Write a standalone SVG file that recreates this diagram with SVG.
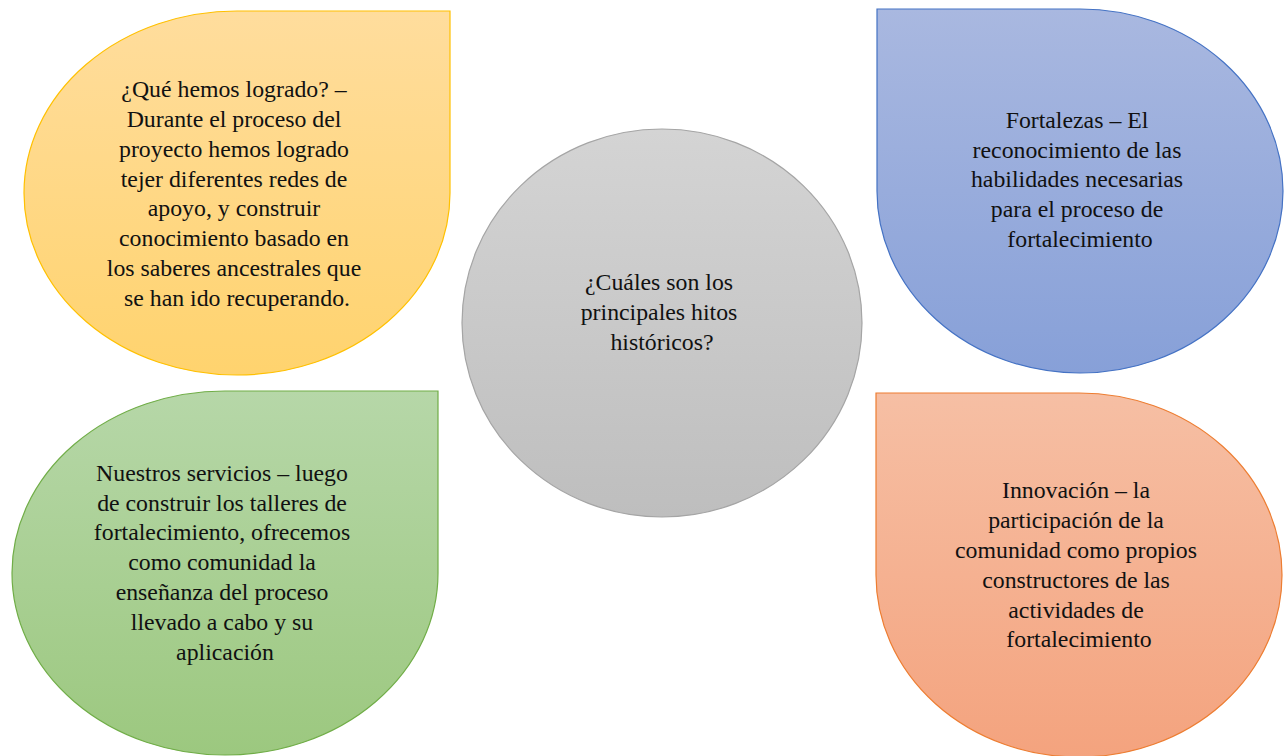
<svg xmlns="http://www.w3.org/2000/svg" width="1284" height="756" viewBox="0 0 1284 756">
  <defs>
    <linearGradient id="gY" x1="0" y1="0" x2="0" y2="1">
      <stop offset="0" stop-color="#FFDD9D"/>
      <stop offset="1" stop-color="#FFD36E"/>
    </linearGradient>
    <linearGradient id="gB" x1="0" y1="0" x2="0" y2="1">
      <stop offset="0" stop-color="#A9B8E0"/>
      <stop offset="1" stop-color="#87A0D8"/>
    </linearGradient>
    <linearGradient id="gG" x1="0" y1="0" x2="0" y2="1">
      <stop offset="0" stop-color="#B6D7A8"/>
      <stop offset="1" stop-color="#9CC87F"/>
    </linearGradient>
    <linearGradient id="gO" x1="0" y1="0" x2="0" y2="1">
      <stop offset="0" stop-color="#F6BFA4"/>
      <stop offset="1" stop-color="#F4A37E"/>
    </linearGradient>
    <linearGradient id="gC" x1="0" y1="0" x2="0" y2="1">
      <stop offset="0" stop-color="#D4D4D4"/>
      <stop offset="1" stop-color="#BEBEBE"/>
    </linearGradient>
  </defs>
  <style>
    .t { font-family: "Times New Roman", "Liberation Serif", Tinos, "Noto Serif", "DejaVu Serif", serif; font-size: 23.8px; fill: #111111; text-anchor: middle; }
    .s { stroke-width: 1.2; }
  </style>
  <rect x="0" y="0" width="1284" height="756" fill="#FFFFFF"/>

  <g id="connectors"></g>

  <g id="node-logros">
    <path class="s" d="M 450 11 L 450 193 A 213 182 0 0 1 237 375 A 213 182 0 0 1 24 193 A 213 182 0 0 1 237 11 Z" fill="url(#gY)" stroke="#FFC000"/>
    <text class="t">
      <tspan x="237" y="97.3">¿Qué hemos logrado? –</tspan>
      <tspan x="237" y="127">Durante el proceso del</tspan>
      <tspan x="237" y="156.8">proyecto hemos logrado</tspan>
      <tspan x="237" y="186.6">tejer diferentes redes de</tspan>
      <tspan x="237" y="216.4">apoyo, y construir</tspan>
      <tspan x="237" y="246.2">conocimiento basado en</tspan>
      <tspan x="237" y="276">los saberes ancestrales que</tspan>
      <tspan x="237" y="305.6">se han ido recuperando.</tspan>
    </text>
  </g>

  <g id="node-fortalezas">
    <path class="s" d="M 877 9 L 1080 9 A 203 182 0 0 1 1283 191 A 203 182 0 0 1 1080 373 A 203 182 0 0 1 877 191 Z" fill="url(#gB)" stroke="#4472C4"/>
    <text class="t">
      <tspan x="1080" y="127.7">Fortalezas – El</tspan>
      <tspan x="1080" y="157.5">reconocimiento de las</tspan>
      <tspan x="1080" y="187.3">habilidades necesarias</tspan>
      <tspan x="1080" y="217.1">para el proceso de</tspan>
      <tspan x="1080" y="246.9">fortalecimiento</tspan>
    </text>
  </g>

  <g id="node-centro">
    <ellipse cx="662" cy="323" rx="200" ry="194" fill="url(#gC)" stroke="#A5A5A5" stroke-width="1.2"/>
    <text class="t">
      <tspan x="662" y="290">¿Cuáles son los</tspan>
      <tspan x="662" y="319.8">principales hitos</tspan>
      <tspan x="662" y="349.6">históricos?</tspan>
    </text>
  </g>

  <g id="node-servicios">
    <path class="s" d="M 438 391 L 438 573 A 213 182 0 0 1 225 755 A 213 182 0 0 1 12 573 A 213 182 0 0 1 225 391 Z" fill="url(#gG)" stroke="#70AD47"/>
    <text class="t">
      <tspan x="225" y="480.7">Nuestros servicios – luego</tspan>
      <tspan x="225" y="510.5">de construir los talleres de</tspan>
      <tspan x="225" y="540.3">fortalecimiento, ofrecemos</tspan>
      <tspan x="225" y="570.1">como comunidad la</tspan>
      <tspan x="225" y="599.9">enseñanza del proceso</tspan>
      <tspan x="225" y="629.7">llevado a cabo y su</tspan>
      <tspan x="225" y="659.5">aplicación</tspan>
    </text>
  </g>

  <g id="node-innovacion">
    <path class="s" d="M 876 393 L 1079 393 A 203 182 0 0 1 1282 575 A 203 182 0 0 1 1079 757 A 203 182 0 0 1 876 575 Z" fill="url(#gO)" stroke="#ED7D31"/>
    <text class="t">
      <tspan x="1079" y="498.3">Innovación – la</tspan>
      <tspan x="1079" y="528.1">participación de la</tspan>
      <tspan x="1079" y="557.9">comunidad como propios</tspan>
      <tspan x="1079" y="587.7">constructores de las</tspan>
      <tspan x="1079" y="617.5">actividades de</tspan>
      <tspan x="1079" y="647.3">fortalecimiento</tspan>
    </text>
  </g>
</svg>
